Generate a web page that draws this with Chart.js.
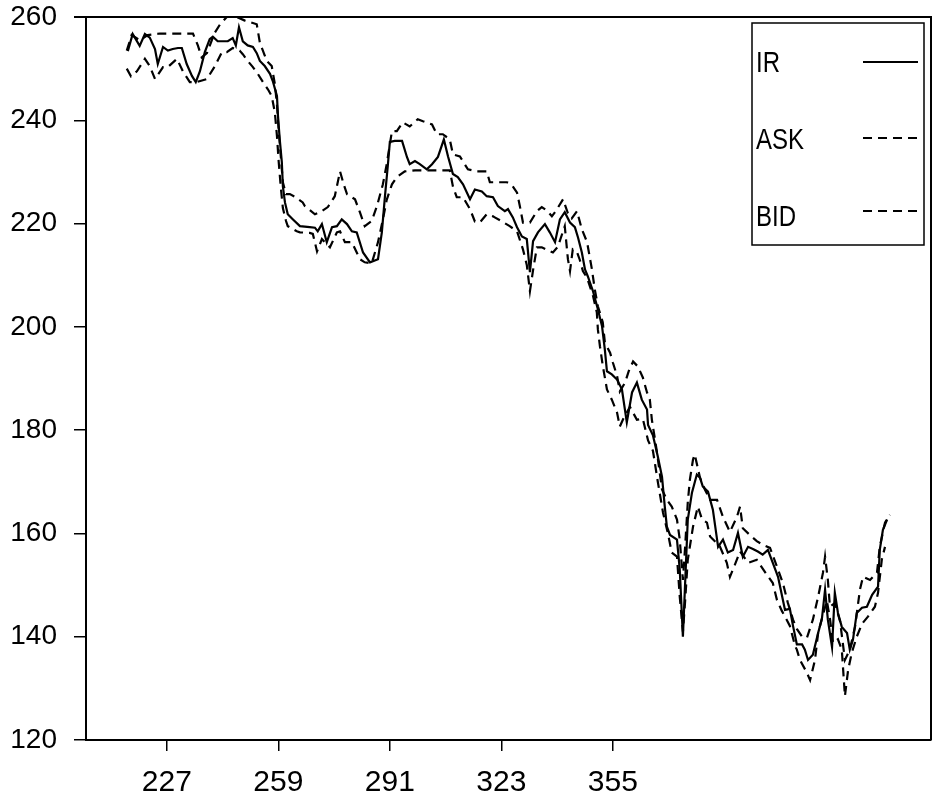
<!DOCTYPE html>
<html><head><meta charset="utf-8">
<script src="https://cdn.jsdelivr.net/npm/chart.js@4/dist/chart.umd.min.js"></script>
<style>html,body{margin:0;padding:0;background:#fff;}#wrap{width:939px;height:798px;}</style>
</head><body><div id="wrap"><canvas id="c" width="939" height="798"></canvas></div>
<script>
const seriesLabels = ['IR', 'ASK', 'BID'];
const xTickValues = [227, 259, 291, 323, 355];
const yTickValues = [120, 140, 160, 180, 200, 220, 240, 260];

const irDays = [215.8,217.2,219.2,220.7,222.1,223.6,224.4,225.9,227.3,228.7,230.2,231.3,232.7,234.2,235.3,236.5,237.9,239.3,240.2,241.6,243.1,244.5,245.9,246.8,247.7,248.8,250.2,251.7,252.8,253.7,255.1,256.6,257.4,258.6,258.9,259.4,260.0,260.3,260.9,261.7,263.2,265.2,268.0,269.5,270.3,271.5,272.9,274.4,275.8,277.2,278.7,280.1,281.5,283.3,285.3,287.6,288.7,289.6,290.4,291.0,292.4,294.5,295.9,296.7,298.2,299.6,301.6,303.1,304.8,306.5,307.7,309.1,310.5,312.0,314.0,315.4,317.4,318.8,320.6,322.0,324.0,324.9,326.3,327.5,328.9,330.3,331.2,332.1,333.5,335.5,336.9,338.4,339.8,341.2,342.7,344.1,345.0,346.1,347.0,347.8,349.3,350.7,351.9,352.7,353.3,354.7,356.2,357.6,359.0,360.5,361.9,363.3,364.8,365.1,366.5,367.9,369.1,369.9,370.5,371.4,373.4,374.2,375.1,375.7,376.5,377.7,379.1,380.0,380.8,382.3,383.7,385.2,386.6,388.0,389.5,390.9,392.3,393.8,395.2,396.6,398.0,399.5,400.9,402.4,404.4,405.8,406.7,407.8,409.3,410.1,411.0,412.4,413.9,415.0,415.9,416.7,417.9,418.7,419.6,420.7,422.2,423.0,423.9,425.0,426.5,427.9,429.4,431.1,431.6,432.5,433.7];
const irValues = [253.4,256.7,254.4,256.7,256.0,253.8,250.9,254.2,253.5,253.8,254.0,254.0,250.9,248.6,247.4,249.5,253.2,255.7,256.2,255.3,255.3,255.3,255.9,254.5,258.0,255.3,254.5,254.2,253.0,251.5,250.5,249.0,247.6,244.7,240.8,236.3,231.9,227.2,224.1,221.8,220.8,219.5,219.3,219.2,218.5,219.9,216.4,219.3,219.5,220.8,219.9,218.5,218.3,214.4,212.5,213.1,218.3,225.3,231.1,235.8,236.0,236.0,232.9,231.5,232.1,231.5,230.5,231.5,232.9,236.3,233.0,229.6,229.0,227.6,224.7,226.6,226.2,225.3,225.1,223.4,222.4,222.8,221.2,219.3,217.5,217.0,210.6,216.6,218.3,219.9,218.3,216.4,220.8,222.2,220.2,219.3,217.3,214.4,211.1,209.8,206.9,203.4,200.1,195.6,191.4,190.8,189.8,187.9,181.5,187.3,189.2,185.9,184.0,181.0,179.0,174.9,171.0,165.2,161.3,159.7,158.8,153.0,140.0,149.7,162.7,167.9,171.4,170.8,169.1,168.1,164.6,157.4,158.8,156.3,156.8,160.1,155.5,157.4,157.0,156.5,155.9,156.8,154.3,151.6,145.2,145.4,142.1,138.5,138.5,137.5,135.5,136.5,140.7,143.5,149.1,143.3,138.0,148.5,144.6,141.9,140.7,137.5,139.4,144.6,145.6,145.8,148.1,149.7,156.8,160.7,162.7];

const askDays = [215.5,216.9,219.2,221.5,225.0,229.3,234.5,235.9,237.0,238.5,239.9,240.8,242.2,244.2,247.1,249.4,252.8,253.7,255.7,257.1,258.0,258.6,259.1,259.7,260.3,261.2,262.3,263.7,266.0,266.6,269.5,271.5,273.2,275.2,276.7,277.8,278.7,281.0,282.4,283.8,285.8,287.3,289.0,290.1,291.6,293.0,294.7,296.7,299.0,300.5,303.1,304.5,306.2,308.2,309.1,311.1,313.4,316.0,318.8,319.7,324.6,326.0,327.5,328.3,329.2,331.2,333.2,334.6,336.1,337.5,338.7,340.7,342.1,343.2,344.7,346.1,347.6,349.0,349.8,350.7,352.1,352.7,354.2,355.0,356.2,357.0,358.5,359.6,360.8,362.2,363.6,364.8,365.6,366.2,367.6,369.1,370.5,371.9,373.4,374.2,375.1,375.7,376.5,377.1,378.0,378.5,380.0,381.4,382.9,384.9,386.6,388.6,390.6,391.5,392.3,394.3,396.3,398.0,400.1,402.4,403.8,405.2,406.7,407.8,409.3,410.7,412.4,413.9,415.3,415.9,416.7,417.3,418.7,420.2,421.6,423.0,424.5,425.9,426.8,428.8,430.8,431.6,433.1,434.5];
const askValues = [253.5,256.5,255.5,256.5,256.8,256.8,256.8,254.5,252.2,253.0,255.5,257.0,258.5,260.0,260.0,259.3,258.6,255.0,251.5,250.5,247.0,243.0,238.0,233.0,228.0,225.7,225.7,225.2,224.1,223.4,221.8,222.4,223.2,225.3,230.1,227.5,225.7,224.7,222.2,219.5,220.5,223.4,227.6,231.5,237.9,237.9,239.6,238.8,240.2,239.8,239.2,237.3,237.3,236.3,233.4,233.0,230.5,230.1,230.1,228.0,228.0,227.5,226.0,223.4,220.2,220.2,222.4,223.2,222.5,221.4,222.5,224.7,222.0,221.0,222.4,218.9,216.4,211.1,207.3,204.0,200.9,197.0,195.0,193.1,190.5,187.5,189.2,191.5,193.3,192.3,190.2,187.3,186.0,182.0,176.0,168.5,166.5,165.2,162.7,158.8,151.0,157.0,166.0,170.4,174.3,175.3,170.8,168.5,166.5,166.5,163.2,160.3,163.2,165.2,161.0,159.7,158.5,157.8,157.2,153.0,150.4,146.6,143.3,141.5,140.0,139.8,143.3,147.7,152.4,155.5,151.0,145.8,146.5,143.0,135.5,137.5,141.9,149.1,151.6,151.0,152.4,157.4,162.1,163.6];

const bidDays = [215.5,216.7,218.4,220.7,222.1,223.6,225.9,227.3,229.9,231.6,233.6,235.6,238.5,240.8,242.8,244.2,245.9,247.9,248.8,250.2,251.7,253.1,254.6,256.0,257.1,258.0,258.6,259.1,259.7,260.3,261.2,261.7,264.3,265.2,268.0,268.9,270.1,271.5,273.8,275.8,276.7,278.1,280.1,282.4,283.8,285.8,287.6,289.0,290.1,291.6,293.0,295.3,298.2,302.5,308.2,309.1,310.2,312.0,314.0,315.4,316.8,318.8,320.6,321.1,323.2,325.4,327.5,329.2,330.3,331.2,332.1,333.2,334.6,336.4,337.8,339.2,341.2,342.1,342.7,343.5,344.7,345.5,346.4,347.6,349.3,350.4,350.7,351.3,352.1,353.3,354.7,356.2,357.0,358.2,359.0,359.9,361.9,363.6,365.1,366.5,367.9,369.4,370.8,371.9,373.4,374.2,375.1,375.7,376.5,378.0,379.4,380.6,382.0,382.9,385.7,387.7,388.6,390.0,391.5,393.8,396.3,399.2,400.9,402.1,403.5,405.8,407.3,407.8,408.7,410.7,411.6,413.0,413.9,415.0,416.4,417.3,418.2,419.6,420.7,421.6,422.5,423.6,425.0,426.5,428.2,430.2,431.1,432.2,433.1];
const bidValues = [250.0,248.5,249.5,251.9,250.5,248.0,250.3,250.3,251.9,249.5,247.4,247.4,248.0,250.5,253.2,253.2,254.0,253.5,252.8,251.5,250.3,249.0,247.4,246.0,244.7,241.5,237.0,232.0,227.0,223.0,220.5,219.5,218.5,218.3,218.2,218.0,214.6,217.0,215.4,218.3,218.5,216.4,216.4,213.1,212.5,212.3,216.4,220.8,224.6,227.6,229.0,230.1,230.3,230.3,230.3,227.2,225.1,225.1,222.8,220.4,220.2,221.8,221.4,221.2,220.4,219.5,218.5,215.0,212.0,206.9,211.0,215.4,215.4,214.8,214.4,215.5,219.5,213.1,210.8,215.0,214.5,213.0,210.8,209.5,206.0,202.8,199.5,196.2,192.5,187.9,185.9,183.4,180.7,182.5,183.4,184.5,182.0,182.2,178.0,176.0,170.0,164.0,160.0,156.3,155.5,147.7,141.0,146.5,154.9,161.3,165.2,162.7,162.1,159.4,157.5,154.3,151.6,153.9,156.5,154.3,154.9,152.0,150.4,147.1,145.0,142.1,138.2,137.5,135.5,133.0,131.6,135.5,140.7,143.5,147.0,143.5,138.8,139.5,137.5,128.5,133.5,137.0,140.0,142.5,143.9,145.8,148.5,155.0,157.4];

function toPoints(xs, ys) { return xs.map((x, i) => ({ x: x, y: ys[i] })); }

const FONT = '"Liberation Sans", Arial, sans-serif';

const framePlugin = {
  id: 'frame',
  afterDraw(chart) {
    const a = chart.chartArea, ctx = chart.ctx;
    ctx.save();
    ctx.strokeStyle = '#000';
    ctx.lineWidth = 2;
    ctx.beginPath();
    ctx.moveTo(a.left - 12, a.top);
    ctx.lineTo(a.right, a.top);
    ctx.lineTo(a.right, a.bottom);
    ctx.stroke();
    ctx.restore();
  }
};

const legendPlugin = {
  id: 'boxLegend',
  afterDraw(chart) {
    const ctx = chart.ctx;
    ctx.save();
    ctx.fillStyle = '#fff';
    ctx.fillRect(752, 23, 172, 222);
    ctx.strokeStyle = '#000';
    ctx.lineWidth = 1.5;
    ctx.strokeRect(752, 23, 172, 222);
    const textY = [64, 141, 218];
    const lineY = [62, 138, 211];
    chart.data.datasets.forEach((ds, i) => {
      ctx.save();
      ctx.translate(756, textY[i]);
      ctx.scale(0.8, 1);
      ctx.font = '30px ' + FONT;
      ctx.fillStyle = '#000';
      ctx.textAlign = 'left';
      ctx.textBaseline = 'middle';
      ctx.fillText(ds.label, 0, 0);
      ctx.restore();
      ctx.beginPath();
      ctx.setLineDash(ds.borderDash || []);
      ctx.lineWidth = ds.borderWidth;
      ctx.strokeStyle = '#000';
      ctx.moveTo(863, lineY[i]);
      ctx.lineTo(918, lineY[i]);
      ctx.stroke();
    });
    ctx.restore();
  }
};

new Chart(document.getElementById('c'), {
  type: 'line',
  data: {
    datasets: [
      { label: seriesLabels[0], data: toPoints(irDays, irValues), borderColor: '#000', borderWidth: 2.2, pointRadius: 0, tension: 0, fill: false },
      { label: seriesLabels[1], data: toPoints(askDays, askValues), borderColor: '#000', borderWidth: 2.2, borderDash: [9, 6], pointRadius: 0, tension: 0, fill: false },
      { label: seriesLabels[2], data: toPoints(bidDays, bidValues), borderColor: '#000', borderWidth: 2.2, borderDash: [9, 6], pointRadius: 0, tension: 0, fill: false }
    ]
  },
  options: {
    responsive: false,
    devicePixelRatio: 1,
    animation: false,
    layout: { padding: { top: 17, right: 8, left: 0, bottom: 0 } },
    plugins: { legend: { display: false }, tooltip: { enabled: false } },
    scales: {
      x: {
        type: 'linear', min: 203.8, max: 446.3,
        afterBuildTicks: (s) => { s.ticks = xTickValues.map(v => ({ value: v })); },
        afterFit: (s) => { s.height = 58; s.paddingLeft = 0; s.paddingRight = 0; },
        ticks: { color: '#000', font: { family: FONT, size: 30 }, padding: 14, maxRotation: 0, autoSkip: false, callback: (v) => String(v) },
        grid: { display: true, drawOnChartArea: false, drawTicks: true, tickLength: 11, color: '#000', lineWidth: 1.5 },
        border: { display: true, color: '#000', width: 2 }
      },
      y: {
        type: 'linear', min: 120, max: 260,
        afterBuildTicks: (s) => { s.ticks = yTickValues.map(v => ({ value: v })); },
        afterFit: (s) => { s.width = 86; s.paddingTop = 0; s.paddingBottom = 0; },
        ticks: { color: '#000', font: { family: FONT, size: 28 }, padding: 17, autoSkip: false, callback: (v) => String(v) },
        grid: { display: true, drawOnChartArea: false, drawTicks: true, tickLength: 12, color: '#000', lineWidth: 1.5 },
        border: { display: true, color: '#000', width: 2 }
      }
    }
  },
  plugins: [framePlugin, legendPlugin]
});
</script></body></html>
